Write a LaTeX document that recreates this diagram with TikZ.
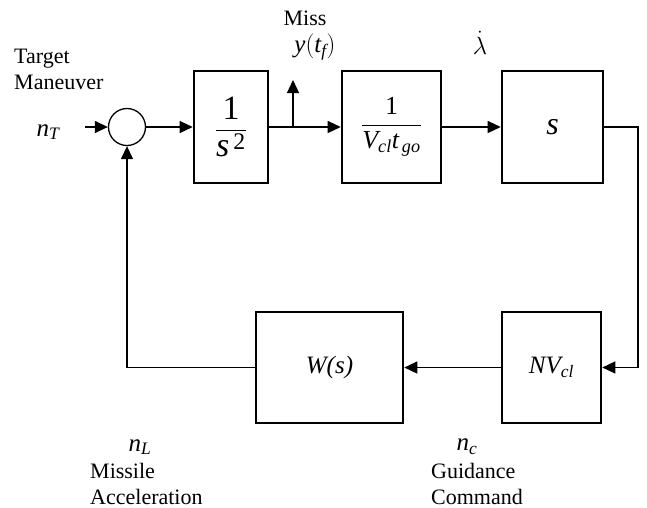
\documentclass[tikz,border=0pt]{standalone}
\usepackage{amsmath}
\usepackage{fontspec}
\setmainfont{Liberation Serif}
\usetikzlibrary{arrows.meta}
\newcommand{\mi}[1]{\text{\itshape #1}}
\newcommand{\fs}[1]{\fontsize{#1}{#1}\selectfont}

\begin{document}
\begin{tikzpicture}[x=1pt,y=-1pt,
    font=\fontsize{22}{26}\selectfont,
    blk/.style={draw, line width=2.6pt, inner sep=0pt},
    wire/.style={line width=1.3pt},
    arr/.style={wire, -{Triangle[length=13pt,width=12pt]}},
    lbl/.style={inner sep=0pt, align=left},
    sig/.style={inner sep=0pt, font=\fs{25}}]

    \useasboundingbox (0,0) rectangle (647,507);

    % forward path
    \node[draw, wire, circle, minimum size=37pt, inner sep=0pt] (sum) at (127,127) {};
    \node[blk, minimum width=74pt, minimum height=112pt, font=\fs{34}] (g1) at (231,127) {$\dfrac{\text{1}}{\mi{s}^{\,\text{2}}}$};
    \node[blk, minimum width=99pt, minimum height=112pt, font=\fs{26}] (g2) at (391.5,127) {$\dfrac{\text{1}}{\mi{V}_{\mi{cl}}\mi{t}_{\,\mi{go}}}$};
    \node[blk, minimum width=101pt, minimum height=112pt, font=\fs{32}] (g3) at (552.5,127) {\textit{s}};

    % feedback path
    \node[blk, minimum width=99pt, minimum height=111pt, font=\fs{25}] (gn) at (551.5,367.5) {$\mi{NV}_{\mi{cl}}$};
    \node[blk, minimum width=147pt, minimum height=111pt, font=\fs{25}] (gw) at (329.5,367.5) {\textit{W(s)}};

    \coordinate (in) at (85,127);
    \coordinate (tap) at (293,127);
    \coordinate (miss) at (293,80);
    \coordinate (rt) at (638,127);

    \draw[arr] (in) -- (sum.west);
    \draw[arr] (sum.east) -- (g1.west);
    \draw[arr] (g1.east) -- (g2.west);
    \draw[arr] (tap) -- (miss);
    \draw[arr] (g2.east) -- (g3.west);
    \draw[arr] (g3.east) -- (rt) |- (gn.east);
    \draw[arr] (gn.west) -- (gw.east);
    \draw[arr] (gw.west) -| (sum.south);

    % labels
    \node[lbl, anchor=west] (tgt) at (14,69) {Target\\Maneuver};
    \node[sig] (nt) at (48,132) {$\mi{n}_{\mi{T}}$};
    \node[lbl] (ms) at (305,18) {Miss};
    \node[sig] (yt) at (315,47) {$\mi{y}(\mi{t}_{\mi{f}})$};
    \node[sig] (ld) at (480,43) {$\dot{\lambda}$};
    \node[sig] (nl) at (140,447) {$\mi{n}_{\mi{L}}$};
    \node[lbl, anchor=west] (acc) at (90,484) {Missile\\Acceleration};
    \node[sig] (nc) at (467,447) {$\mi{n}_{\mi{c}}$};
    \node[lbl, anchor=west] (cmd) at (431,484) {Guidance\\Command};

\end{tikzpicture}
\end{document}
